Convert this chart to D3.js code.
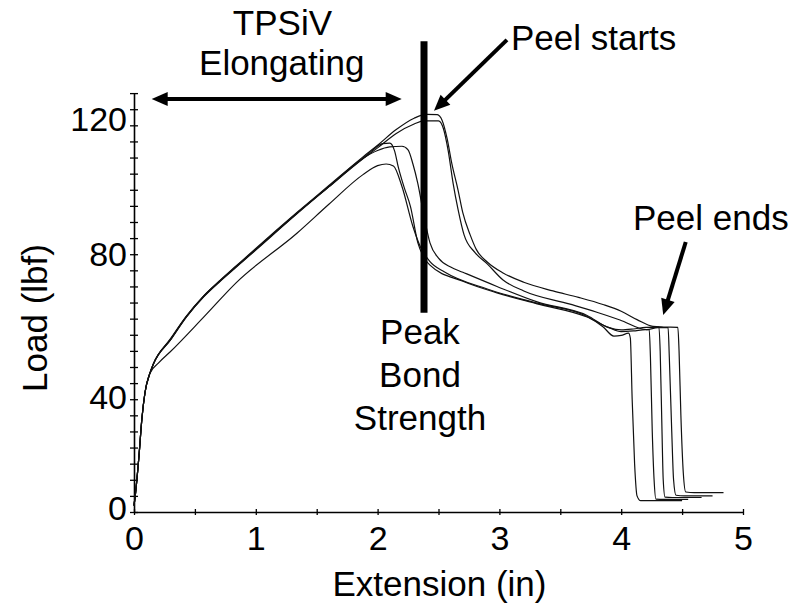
<!DOCTYPE html>
<html>
<head>
<meta charset="utf-8">
<script src="https://cdn.jsdelivr.net/npm/d3@7"></script>
<style>
  html, body { margin: 0; padding: 0; background: #fff; }
  svg { display: block; font-family: "Liberation Sans", Arial, sans-serif; }
</style>
</head>
<body>
<svg id="chart" width="791" height="607"></svg>
<script>
// tick values / labels
var xTickValues = [0, 0.5, 1, 1.5, 2, 2.5, 3, 3.5, 4, 4.5, 5];
var xLabels = [0, 1, 2, 3, 4, 5];
var yTickValues = [0, 5, 10, 15, 20, 25, 30, 35, 40, 45, 50, 55, 60, 65, 70, 75, 80, 85, 90, 95, 100, 105, 110, 115, 120, 125, 130];
var yLabels = [0, 40, 80, 120];

// load-extension curves, [extension (in), load (lbf)]
var curveA = [[0, 2], [0.01, 5], [0.04, 17], [0.065, 29], [0.09, 37], [0.13, 43], [0.16, 46], [0.3, 53.8], [0.43, 60.8], [0.57, 67], [0.71, 72], [0.84, 76.4], [1.0, 81.8], [1.34, 93], [1.6, 101.3], [1.88, 110.2], [2.0, 113.8], [2.15, 118.6], [2.3, 122.2], [2.4, 123.4], [2.49, 123.3], [2.53, 121.5], [2.57, 116], [2.61, 108], [2.66, 100], [2.7, 92.8], [2.76, 86], [2.81, 81.5], [2.9, 77.6], [3.03, 74.2], [3.2, 71.3], [3.44, 68.6], [3.65, 66.6], [3.85, 64.4], [4.0, 62.3], [4.13, 59.7], [4.26, 57.6], [4.35, 57.4], [4.465, 57.3], [4.475, 50], [4.49, 30], [4.51, 12], [4.53, 6.2], [4.6, 6], [4.84, 6]];
var curveB = [[0, 2], [0.01, 5], [0.04, 17], [0.065, 29], [0.09, 37], [0.13, 43], [0.16, 46], [0.3, 53.4], [0.43, 60.5], [0.57, 66.7], [0.71, 71.7], [0.84, 76], [1.0, 81.3], [1.34, 92.6], [1.6, 100.9], [1.88, 109.6], [2.0, 113], [2.15, 117.4], [2.3, 120.4], [2.38, 121.4], [2.5, 121.4], [2.54, 119], [2.58, 112], [2.62, 102], [2.66, 94], [2.71, 86], [2.8, 80.5], [2.9, 77], [3.03, 72], [3.2, 68.6], [3.58, 64.5], [3.8, 62], [3.99, 59.6], [4.21, 56.6], [4.3, 57.2], [4.385, 57.2], [4.395, 48], [4.415, 25], [4.43, 10], [4.45, 5.2], [4.52, 5], [4.75, 5]];
var curveC = [[0, 2], [0.01, 5], [0.04, 17], [0.065, 29], [0.09, 37], [0.13, 43], [0.16, 46], [0.3, 53.6], [0.43, 60.6], [0.57, 66.9], [0.71, 71.9], [0.84, 76.2], [1.0, 81.5], [1.34, 92.8], [1.6, 101], [1.88, 109.8], [2.0, 112.2], [2.1, 113.3], [2.2, 113.5], [2.25, 112.4], [2.29, 108], [2.33, 102], [2.38, 92], [2.43, 83.5], [2.5, 78.8], [2.6, 76], [2.7, 74.4], [2.98, 70], [3.31, 65.2], [3.72, 61], [3.9, 57.2], [4.0, 56.5], [4.1, 56.8], [4.2, 57.3], [4.31, 57.4], [4.32, 50], [4.335, 25], [4.345, 10], [4.36, 4.6], [4.42, 4.5], [4.66, 4.5]];
var curveD = [[0, 2], [0.01, 5], [0.04, 17], [0.065, 29], [0.09, 37], [0.13, 43], [0.16, 46], [0.3, 53.5], [0.43, 60.6], [0.57, 66.8], [0.71, 71.8], [0.84, 76.2], [1.0, 81.5], [1.34, 92.8], [1.6, 101], [1.88, 109.8], [1.95, 112], [2.04, 114.3], [2.1, 114.5], [2.14, 112], [2.17, 107], [2.22, 100.5], [2.27, 94.8], [2.33, 83.6], [2.38, 79], [2.43, 76.6], [2.7, 71.6], [2.98, 68], [3.31, 64.6], [3.72, 60.5], [3.9, 57.2], [4.0, 56], [4.1, 56.2], [4.2, 56.6], [4.23, 56.6], [4.24, 48], [4.255, 25], [4.27, 10], [4.285, 4], [4.35, 3.9], [4.55, 3.9]];
var curveE = [[0, 2], [0.01, 5], [0.04, 17], [0.065, 29], [0.09, 37], [0.13, 43], [0.2, 46.2], [0.3, 49.8], [0.57, 60.4], [0.84, 71.2], [1.34, 86.6], [1.6, 95.5], [1.88, 104.7], [2.0, 107.5], [2.07, 108], [2.13, 107.4], [2.2, 101], [2.29, 88.6], [2.35, 82.4], [2.43, 77.7], [2.55, 74.5], [2.9, 69.2], [3.31, 64.8], [3.72, 60.7], [3.85, 57.5], [3.94, 54.6], [4.0, 54.8], [4.06, 55.5], [4.075, 54], [4.09, 35], [4.11, 15], [4.13, 5], [4.16, 3.5], [4.5, 3.5]];
var curves = [curveA, curveB, curveC, curveD, curveE];

var svg = d3.select('#chart');
var x = d3.scaleLinear().domain([0, 5]).range([134, 743]);
var y = d3.scaleLinear().domain([0, 130]).range([512, 93.1]);

// y axis: small ticks crossing the line, labels only at 0/40/80/120
var yAxis = svg.append('g')
    .attr('transform', 'translate(' + x(0) + ',0)')
    .call(d3.axisLeft(y).tickValues(yTickValues).tickSize(4).tickSizeOuter(0).tickPadding(3)
        .tickFormat(function (d) { return yLabels.indexOf(d) >= 0 ? d : ''; }));
yAxis.selectAll('.tick line').attr('x1', 4).attr('stroke-width', 1.3);
yAxis.select('.domain').attr('stroke-width', 1.6);
// the labels in the source sit a bit off their ticks
var yNudge = {0: -3, 40: 15, 80: 0, 120: -6};
yAxis.selectAll('.tick text')
    .attr('font-size', 34).attr('font-family', '"Liberation Sans", Arial, sans-serif').attr('fill', '#000')
    .attr('transform', function (d) { return 'translate(0,' + (yNudge[d] || 0) + ')'; });

var xAxis = svg.append('g')
    .attr('transform', 'translate(0,' + y(0) + ')')
    .call(d3.axisBottom(x).tickValues(xTickValues).tickSize(3).tickSizeOuter(0).tickPadding(11)
        .tickFormat(function (d) { return xLabels.indexOf(d) >= 0 ? d : ''; }));
xAxis.selectAll('.tick line').attr('y1', -3).attr('stroke-width', 1.3);
xAxis.select('.domain').attr('stroke-width', 1.6);
xAxis.selectAll('.tick text')
    .attr('font-size', 34).attr('font-family', '"Liberation Sans", Arial, sans-serif').attr('fill', '#000');

// axis titles
svg.append('text')
    .attr('x', (x(0) + x(5)) / 2 + 1).attr('y', 596)
    .attr('text-anchor', 'middle').attr('font-size', 35)
    .text('Extension (in)');
svg.append('text')
    .attr('transform', 'translate(47,318) rotate(-90)')
    .attr('text-anchor', 'middle').attr('font-size', 35)
    .text('Load (lbf)');

// curves
var line = d3.line()
    .x(function (d) { return x(d[0]); })
    .y(function (d) { return y(d[1]); })
    .curve(d3.curveMonotoneX);

svg.append('g').selectAll('path')
    .data(curves)
    .enter().append('path')
    .attr('d', line)
    .attr('fill', 'none')
    .attr('stroke', '#111')
    .attr('stroke-width', 1.2);

// annotations, positioned in data units
var arrow = function (x1, y1, x2, y2, both) {
    var px1 = x(x1), py1 = y(y1), px2 = x(x2), py2 = y(y2);
    var len = Math.hypot(px2 - px1, py2 - py1);
    var ux = (px2 - px1) / len, uy = (py2 - py1) / len;
    var hl = 16, hw = 7;
    var head = function (tx, ty, dx, dy) {
        var bx = tx - dx * hl, by = ty - dy * hl;
        svg.append('path')
            .attr('d', 'M' + tx + ',' + ty + 'L' + (bx - dy * hw) + ',' + (by + dx * hw) +
                'L' + (bx + dy * hw) + ',' + (by - dx * hw) + 'Z')
            .attr('fill', '#000');
    };
    svg.append('line')
        .attr('x1', both ? px1 + ux * hl * 0.8 : px1).attr('y1', both ? py1 + uy * hl * 0.8 : py1)
        .attr('x2', px2 - ux * hl * 0.8).attr('y2', py2 - uy * hl * 0.8)
        .attr('stroke', '#000').attr('stroke-width', 4);
    head(px2, py2, ux, uy);
    if (both) head(px1, py1, -ux, -uy);
};

arrow(0.145, 128.2, 2.198, 128.2, true);
arrow(3.062, 146.5, 2.463, 124.5, false);
arrow(4.53, 83.8, 4.345, 61.1, false);

svg.append('line')
    .attr('x1', x(2.381)).attr('x2', x(2.381))
    .attr('y1', y(146.1)).attr('y2', y(61.8))
    .attr('stroke', '#000').attr('stroke-width', 7);

var notes = [
    {text: 'TPSiV', x: 1.219, y: 148.0, anchor: 'middle'},
    {text: 'Elongating', x: 1.213, y: 135.6, anchor: 'middle'},
    {text: 'Peak', x: 2.348, y: 52.1, anchor: 'middle'},
    {text: 'Bond', x: 2.348, y: 38.8, anchor: 'middle'},
    {text: 'Strength', x: 2.348, y: 25.4, anchor: 'middle'},
    {text: 'Peel starts', x: 3.095, y: 143.4, anchor: 'start'},
    {text: 'Peel ends', x: 4.097, y: 87.5, anchor: 'start'}
];
svg.append('g').selectAll('text')
    .data(notes)
    .enter().append('text')
    .attr('x', function (d) { return x(d.x); })
    .attr('y', function (d) { return y(d.y); })
    .attr('text-anchor', function (d) { return d.anchor; })
    .attr('font-size', 35)
    .text(function (d) { return d.text; });
</script>
</body>
</html>
